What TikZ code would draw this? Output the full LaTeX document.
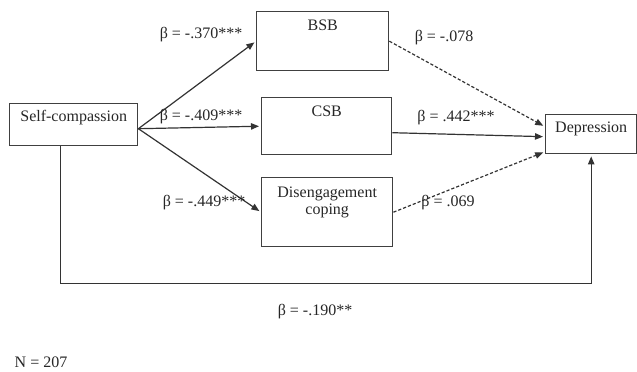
\documentclass[tikz,border=0pt]{standalone}
\usepackage{fontspec}
\setmainfont{Liberation Serif}
\usetikzlibrary{arrows.meta,calc}

\begin{document}
\begin{tikzpicture}[x=0.5pt,y=-0.5pt,
  font=\fontsize{8}{8.5}\selectfont,
  box/.style={draw=black!75,line width=0.7pt,inner sep=0pt,anchor=north west,align=center,text=black!85},
  path/.style={draw=black!80,line width=0.6pt,shorten >=1pt,-{Triangle[length=4pt,width=3.2pt]}},
  ns/.style={path,dash pattern=on 1.6pt off 1pt},
  coef/.style={text=black!85,inner sep=0pt}]
\useasboundingbox (0,0) rectangle (637,371);

% Variables
\node[box,minimum width=64pt,text height=9pt,text depth=12pt] (sc) at (9,103) {Self-compassion};
\node[box,minimum width=66pt,text height=9.5pt,text depth=20pt] (bsb) at (256,11) {BSB};
\node[box,minimum width=65pt,text height=9.5pt,text depth=19pt] (csb) at (261,97) {CSB};
\node[box,minimum width=65.5pt,text height=18.5pt,text depth=16pt] (dis) at (261,177) {Disengagement\\coping};
\node[box,minimum width=45.5pt,text height=9pt,text depth=10.5pt] (dep) at (545,114) {Depression};

% a paths
\draw[path] ([yshift=-2pt]sc.east) -- (bsb.west);
\draw[path] ([yshift=-2pt]sc.east) -- (csb.west);
\draw[path] ([yshift=-2pt]sc.east) -- (dis.west);

% b paths
\draw[ns] (bsb.east) -- ([yshift=3.75pt]dep.west);
\draw[path] ([yshift=-3.25pt]csb.east) -- ([yshift=-1.25pt]dep.west);
\draw[ns] (dis.east) -- ([yshift=-8.75pt]dep.west);

% direct path
\draw[path] ([xshift=-6.5pt]sc.south) -- ++(0,137) -| (dep.south);

% Coefficients
\node[coef] (a1) at (201,35) {β = -.370***};
\node[coef] (a2) at (201,117) {β = -.409***};
\node[coef] (a3) at (204,203) {β = -.449***};
\node[coef] (b1) at (444,38) {β = -.078};
\node[coef] (b2) at (456,118) {β = .442***};
\node[coef] (b3) at (448,203) {β = .069};
\node[coef] (c) at (315,312) {β = -.190**};
\node[coef] (n) at (41,362) {N = 207};
\end{tikzpicture}
\end{document}
